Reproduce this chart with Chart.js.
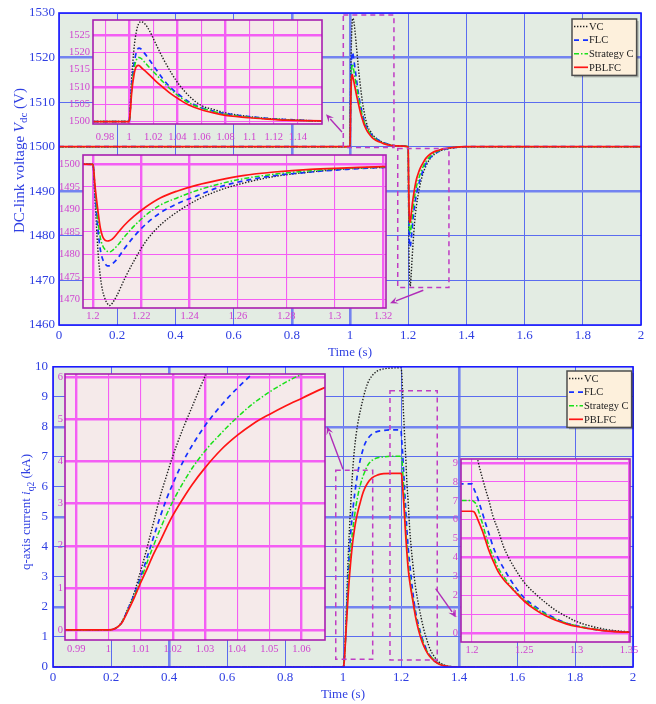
<!DOCTYPE html>
<html>
<head>
<meta charset="utf-8">
<script src="https://cdn.jsdelivr.net/npm/chart.js@4.4.1/dist/chart.umd.min.js"></script>
<style>
  body { margin: 0; background: #fff; }
  #wrap { position: relative; width: 656px; height: 704px; overflow: hidden; }
  #wrap canvas { position: absolute; }
</style>
</head>
<body>
<div id="wrap">
  <canvas id="vdcMain" width="656" height="362" style="left:0;top:0"></canvas>
  <canvas id="iqMain" width="656" height="350" style="left:0;top:354px"></canvas>
  <canvas id="vdcZoomUp" width="272" height="142" style="left:60px;top:8px"></canvas>
  <canvas id="vdcZoomDown" width="348" height="183" style="left:50px;top:143px"></canvas>
  <canvas id="iqZoomRise" width="295" height="298" style="left:40px;top:362px"></canvas>
  <canvas id="iqZoomFall" width="206" height="215" style="left:436px;top:447px"></canvas>
</div>
<script>
// ---- data ----
const seriesNames = ['VC', 'FLC', 'Strategy C', 'PBLFC'];

// DC-link voltage (V)
const vdcTime = [0, 1.0, 1.001, 1.002, 1.004, 1.006, 1.008, 1.010, 1.013, 1.017, 1.022, 1.028, 1.035, 1.042,
  1.05, 1.06, 1.07, 1.08, 1.09, 1.1, 1.115, 1.13, 1.16, 1.2,
  1.201, 1.202, 1.203, 1.204, 1.205, 1.206, 1.207, 1.208, 1.210, 1.213, 1.217, 1.222, 1.228, 1.235,
  1.243, 1.252, 1.262, 1.275, 1.29, 1.305, 1.32, 1.35, 1.4, 2.0];
const vdcVC = [1500, 1500, 1505, 1512, 1521, 1526, 1528.3, 1528.8, 1528.2, 1526.1, 1522.5, 1518.3, 1514.0, 1510.4,
  1507.3, 1504.6, 1503.5, 1502.5, 1501.9, 1501.4, 1500.9, 1500.6, 1500.2, 1500,
  1491, 1481.5, 1475.4, 1472, 1470.2, 1469.1, 1468.7, 1469.2, 1471, 1474.5, 1478.6, 1483.0, 1486.6, 1489.5,
  1492.1, 1494.2, 1495.8, 1497.3, 1498.3, 1499.0, 1499.3, 1499.7, 1500, 1500];
const vdcFLC = [1500, 1500, 1504, 1510, 1516.5, 1520, 1521.2, 1520.9, 1519.6, 1517.7, 1515.2, 1512.3, 1509.6, 1507.6,
  1505.6, 1504.0, 1503.0, 1502.3, 1501.8, 1501.4, 1500.9, 1500.6, 1500.2, 1500,
  1492.5, 1486, 1481.3, 1479, 1478, 1477.5, 1477.5, 1477.9, 1479, 1481.3, 1484.0, 1486.8, 1489.3, 1491.3,
  1493.0, 1494.9, 1496.3, 1497.5, 1498.3, 1498.9, 1499.3, 1499.7, 1500, 1500];
const vdcSC = [1500, 1500, 1503.5, 1509, 1515, 1517.8, 1518.5, 1518.2, 1517.1, 1515.5, 1513.7, 1511.5, 1509.1, 1507.1,
  1505.3, 1503.9, 1502.9, 1502.1, 1501.6, 1501.2, 1500.8, 1500.5, 1500.2, 1500,
  1493.5, 1488, 1483.9, 1482, 1481.1, 1480.7, 1480.6, 1480.9, 1481.9, 1483.9, 1486.3, 1488.8, 1491.0, 1492.6,
  1494.2, 1495.6, 1496.8, 1497.8, 1498.6, 1499.1, 1499.4, 1499.8, 1500, 1500];
const vdcPB = [1500, 1500, 1503, 1508, 1513.5, 1515.9, 1516.2, 1515.6, 1514.7, 1513.4, 1511.7, 1509.9, 1507.9, 1506.3,
  1504.7, 1503.4, 1502.5, 1501.8, 1501.4, 1501.1, 1500.7, 1500.4, 1500.2, 1500,
  1494.5, 1490, 1486.1, 1484, 1483.2, 1483.0, 1483.1, 1483.4, 1484.6, 1486.5, 1488.5, 1490.6, 1492.6, 1494.1,
  1495.4, 1496.5, 1497.5, 1498.3, 1498.9, 1499.2, 1499.5, 1499.8, 1500, 1500];

// q-axis current (kA)
const iqTime = [0, 1.0, 1.002, 1.004, 1.006, 1.008, 1.010, 1.012, 1.014, 1.016, 1.018, 1.020,
  1.023, 1.026, 1.03, 1.035, 1.04, 1.045, 1.05, 1.055, 1.06, 1.067,
  1.075, 1.085, 1.1, 1.12, 1.14, 1.17, 1.2,
  1.202, 1.204, 1.206, 1.208, 1.21, 1.213, 1.216, 1.22,
  1.225, 1.23, 1.235, 1.24, 1.25, 1.26, 1.27, 1.28, 1.29, 1.30,
  1.315, 1.33, 1.35, 1.4, 2.0];
const iqVC = [0, 0, 0.03, 0.17, 0.5, 0.88, 1.4, 1.95, 2.55, 3.15, 3.65, 4.13,
  4.75, 5.3, 6.02, 6.75, 7.3, 7.72, 8.05, 8.32, 8.55, 8.85,
  9.15, 9.45, 9.7, 9.87, 9.93, 9.96, 9.97,
  9.85, 9.55, 9.05, 8.6, 8.2, 7.6, 7.05, 6.2,
  5.45, 4.6, 4.0, 3.5, 2.67, 2.1, 1.62, 1.2, 0.88, 0.6,
  0.34, 0.17, 0.06, 0, 0];
const iqFLC = [0, 0, 0.03, 0.16, 0.48, 0.84, 1.25, 1.72, 2.2, 2.67, 3.1, 3.47,
  3.97, 4.38, 4.85, 5.33, 5.74, 6.1, 6.42, 6.68, 6.92, 7.18,
  7.42, 7.6, 7.76, 7.85, 7.88, 7.9, 7.9,
  7.62, 7.35, 7.05, 6.7, 6.35, 5.8, 5.3, 4.6,
  3.95, 3.45, 2.98, 2.55, 1.85, 1.42, 1.05, 0.77, 0.53, 0.38,
  0.2, 0.11, 0.04, 0, 0];
const iqSC = [0, 0, 0.03, 0.16, 0.46, 0.8, 1.18, 1.6, 2.0, 2.38, 2.73, 3.05,
  3.47, 3.84, 4.25, 4.67, 5.05, 5.38, 5.65, 5.88, 6.07, 6.3,
  6.5, 6.72, 6.88, 6.97, 7.0, 7.02, 7.02,
  6.95, 6.82, 6.5, 6.15, 5.8, 5.2, 4.65, 4.1,
  3.45, 3.0, 2.62, 2.3, 1.75, 1.33, 1.0, 0.73, 0.52, 0.38,
  0.22, 0.11, 0.04, 0, 0];
const iqPB = [0, 0, 0.03, 0.15, 0.44, 0.76, 1.12, 1.45, 1.8, 2.1, 2.42, 2.72,
  3.1, 3.45, 3.85, 4.28, 4.62, 4.9, 5.12, 5.32, 5.5, 5.75,
  5.95, 6.13, 6.3, 6.4, 6.44, 6.45, 6.45,
  6.42, 6.22, 5.95, 5.68, 5.4, 4.9, 4.4, 3.85,
  3.25, 2.85, 2.54, 2.25, 1.68, 1.25, 0.92, 0.67, 0.48, 0.34,
  0.2, 0.1, 0.04, 0, 0];

// tick labels
const timeTicks = [0, 0.2, 0.4, 0.6, 0.8, 1, 1.2, 1.4, 1.6, 1.8, 2];
const vdcTicks = [1460, 1470, 1480, 1490, 1500, 1510, 1520, 1530];
const iqTicks = [0, 1, 2, 3, 4, 5, 6, 7, 8, 9, 10];
const upTimeTicks = [0.98, 1, 1.02, 1.04, 1.06, 1.08, 1.1, 1.12, 1.14];
const upVdcTicks = [1500, 1505, 1510, 1515, 1520, 1525];
const downTimeTicks = [1.2, 1.22, 1.24, 1.26, 1.28, 1.3, 1.32];
const downVdcTicks = [1470, 1475, 1480, 1485, 1490, 1495, 1500];
const riseTimeTicks = [0.99, 1, 1.01, 1.02, 1.03, 1.04, 1.05, 1.06];
const riseIqTicks = [0, 1, 2, 3, 4, 5, 6];
const fallTimeTicks = [1.2, 1.25, 1.3, 1.35];
const fallIqTicks = [0, 1, 2, 3, 4, 5, 6, 7, 8, 9];

// ---- styles ----
const SERIF = '"Liberation Serif", "Times New Roman", serif';
const BLUE_TXT = '#2f3fe2';
const BLUE_GRID = '#5b6cef';
const BLUE_GRID_THICK = '#7383f0';
const BLUE_FRAME = '#1a1aff';
const PLOT_BG = '#e3ece3';
const INSET_BG = '#f5eaea';
const INSET_GRID = '#f45ef4';
const INSET_FRAME = '#a81fb0';
const INSET_TXT = '#d044d0';
const ZOOM_MARK = '#c03cc4';

const lineStyles = [
  { color: '#1e1e1e', width: 1.4, dash: [1.4, 1.6] },
  { color: '#1530ff', width: 1.7, dash: [5, 4] },
  { color: '#18e018', width: 1.5, dash: [5, 2, 1.5, 2] },
  { color: '#ff1414', width: 1.7, dash: [] }
];

function makeDatasets(time, series) {
  return series.map((vals, i) => ({
    label: seriesNames[i],
    data: time.map((t, k) => ({ x: t, y: vals[k] })),
    borderColor: lineStyles[i].color,
    borderWidth: lineStyles[i].width,
    borderDash: lineStyles[i].dash,
    pointRadius: 0,
    fill: false,
    cubicInterpolationMode: 'monotone',
    order: 4 - i
  }));
}

const fmt = v => String(parseFloat(Number(v).toFixed(3)));
const near = (v, list) => list.some(w => Math.abs(v - w) < 1e-9);
const setTicks = list => s => { s.ticks = list.map(v => ({ value: v })); };

function drawArrow(ctx, x1, y1, x2, y2, color) {
  const ang = Math.atan2(y2 - y1, x2 - x1);
  const hl = 8, hw = 3.5;
  ctx.save();
  ctx.strokeStyle = color;
  ctx.fillStyle = color;
  ctx.lineWidth = 1.4;
  ctx.beginPath();
  ctx.moveTo(x1, y1);
  ctx.lineTo(x2 - Math.cos(ang) * hl * 0.8, y2 - Math.sin(ang) * hl * 0.8);
  ctx.stroke();
  ctx.beginPath();
  ctx.moveTo(x2, y2);
  ctx.lineTo(x2 - Math.cos(ang) * hl - Math.sin(ang) * hw, y2 - Math.sin(ang) * hl + Math.cos(ang) * hw);
  ctx.lineTo(x2 - Math.cos(ang) * hl * 0.6, y2 - Math.sin(ang) * hl * 0.6);
  ctx.lineTo(x2 - Math.cos(ang) * hl + Math.sin(ang) * hw, y2 - Math.sin(ang) * hl - Math.cos(ang) * hw);
  ctx.closePath();
  ctx.fill();
  ctx.restore();
}

// vertical axis title made of runs, read bottom to top
function drawVerticalTitle(ctx, x, yStart, parts) {
  ctx.save();
  ctx.translate(x, yStart);
  ctx.rotate(-Math.PI / 2);
  ctx.fillStyle = BLUE_TXT;
  ctx.textBaseline = 'middle';
  ctx.textAlign = 'left';
  let pos = 0;
  parts.forEach(p => {
    ctx.font = p.font;
    ctx.fillText(p.text, pos, p.dy || 0);
    pos += ctx.measureText(p.text).width;
  });
  ctx.restore();
}

function drawLegend(chart, left, top) {
  const ctx = chart.ctx;
  const rowH = 13.6;
  ctx.save();
  ctx.font = '10.5px ' + SERIF;
  const textW = Math.max(...chart.data.datasets.map(d => ctx.measureText(d.label).width));
  const w = 17 + textW + 3, h = rowH * 4 + 2;
  ctx.fillStyle = 'rgba(0,0,0,0.25)';
  ctx.fillRect(left + 2, top + 2, w, h);
  ctx.fillStyle = '#fdf0dc';
  ctx.fillRect(left, top, w, h);
  ctx.strokeStyle = '#4d4d4d';
  ctx.lineWidth = 1.5;
  ctx.strokeRect(left, top, w, h);
  chart.data.datasets.forEach((ds, i) => {
    const y = top + 7.5 + i * rowH;
    ctx.strokeStyle = ds.borderColor;
    ctx.lineWidth = ds.borderWidth;
    ctx.setLineDash(ds.borderDash);
    ctx.beginPath();
    ctx.moveTo(left + 2, y);
    ctx.lineTo(left + 16, y);
    ctx.stroke();
    ctx.setLineDash([]);
    ctx.fillStyle = '#222';
    ctx.textBaseline = 'middle';
    ctx.fillText(ds.label, left + 17, y + 0.5);
  });
  ctx.restore();
}

function mainDecor(cfg) {
  return {
    id: 'mainDecor',
    beforeDraw(chart) {
      const { ctx, chartArea: a } = chart;
      ctx.save();
      ctx.fillStyle = PLOT_BG;
      ctx.fillRect(a.left, a.top, a.width, a.height);
      ctx.restore();
    },
    afterDatasetsDraw(chart) {
      const { ctx, scales: { x, y } } = chart;
      ctx.save();
      ctx.strokeStyle = ZOOM_MARK;
      ctx.lineWidth = 1.5;
      ctx.setLineDash([5, 4]);
      cfg.boxes.forEach(b => {
        const x0 = x.getPixelForValue(b[0]), x1 = x.getPixelForValue(b[1]);
        const y0 = y.getPixelForValue(b[2]), y1 = y.getPixelForValue(b[3]);
        ctx.strokeRect(x0, y1, x1 - x0, y0 - y1);
      });
      ctx.restore();
      cfg.arrows.forEach(a => drawArrow(ctx,
        x.getPixelForValue(a[0]), y.getPixelForValue(a[1]),
        x.getPixelForValue(a[2]), y.getPixelForValue(a[3]), '#b02cb8'));
    },
    afterDraw(chart) {
      const { ctx, chartArea: a } = chart;
      ctx.save();
      ctx.strokeStyle = BLUE_FRAME;
      ctx.lineWidth = 1.6;
      ctx.strokeRect(a.left, a.top, a.width, a.height);
      ctx.restore();
      drawLegend(chart, cfg.legend[0], cfg.legend[1]);
      drawVerticalTitle(ctx, cfg.title[0], cfg.title[1], cfg.titleParts);
    }
  };
}

function mainChart(id, cfg) {
  return new Chart(document.getElementById(id), {
    type: 'line',
    data: { datasets: makeDatasets(cfg.time, cfg.series) },
    options: {
      responsive: false,
      animation: false,
      events: [],
      layout: { padding: { top: cfg.padTop, right: cfg.padRight, left: 0, bottom: 0 } },
      plugins: { legend: { display: false }, tooltip: { enabled: false } },
      scales: {
        x: {
          type: 'linear', min: 0, max: 2,
          afterBuildTicks: setTicks(timeTicks),
          afterFit: s => { s.height = cfg.xAxisH; },
          ticks: { callback: fmt, autoSkip: false, maxRotation: 0, padding: 3, color: BLUE_TXT,
                   font: { family: SERIF, size: 13 } },
          grid: { drawTicks: false,
                  color: c => near(c.tick.value, cfg.thickX) ? BLUE_GRID_THICK : BLUE_GRID,
                  lineWidth: c => near(c.tick.value, cfg.thickX) ? 2.6 : 1 },
          border: { display: false },
          title: { display: true, text: 'Time (s)', color: BLUE_TXT,
                   font: { family: SERIF, size: 13 }, padding: { top: 0, bottom: 2 } }
        },
        y: {
          type: 'linear', min: cfg.yMin, max: cfg.yMax,
          afterBuildTicks: setTicks(cfg.yTicks),
          afterFit: s => { s.width = cfg.yAxisW; },
          ticks: { callback: fmt, autoSkip: false, padding: cfg.yPad, color: BLUE_TXT,
                   font: { family: SERIF, size: 13 } },
          grid: { drawTicks: false,
                  color: c => near(c.tick.value, cfg.thickY) ? BLUE_GRID_THICK : BLUE_GRID,
                  lineWidth: c => near(c.tick.value, cfg.thickY) ? 2.6 : 1 },
          border: { display: false }
        }
      }
    },
    plugins: [mainDecor(cfg)]
  });
}

const insetDecor = {
  id: 'insetDecor',
  beforeDraw(chart) {
    const { ctx, chartArea: a } = chart;
    ctx.save();
    ctx.fillStyle = INSET_BG;
    ctx.fillRect(a.left, a.top, a.width, a.height);
    ctx.restore();
  },
  afterDraw(chart) {
    const { ctx, chartArea: a } = chart;
    ctx.save();
    ctx.strokeStyle = INSET_FRAME;
    ctx.lineWidth = 1.6;
    ctx.strokeRect(a.left, a.top, a.width, a.height);
    ctx.restore();
  }
};

function insetChart(id, cfg) {
  return new Chart(document.getElementById(id), {
    type: 'line',
    data: { datasets: makeDatasets(cfg.time, cfg.series) },
    options: {
      responsive: false,
      animation: false,
      events: [],
      layout: { padding: { top: cfg.padTop, right: cfg.padRight, left: 0, bottom: 0 } },
      plugins: { legend: { display: false }, tooltip: { enabled: false } },
      scales: {
        x: {
          type: 'linear', min: cfg.xMin, max: cfg.xMax,
          afterBuildTicks: setTicks(cfg.xTicks),
          afterFit: s => { s.height = cfg.xAxisH; },
          ticks: { callback: fmt, autoSkip: false, maxRotation: 0, padding: cfg.xPad, color: INSET_TXT,
                   font: { family: SERIF, size: 10.5 } },
          grid: { drawTicks: false, color: INSET_GRID,
                  lineWidth: c => near(c.tick.value, cfg.thickX) ? 2.4 : 1.1 },
          border: { display: false }
        },
        y: {
          type: 'linear', min: cfg.yMin, max: cfg.yMax,
          afterBuildTicks: setTicks(cfg.yTicks),
          afterFit: s => { s.width = cfg.yAxisW; },
          ticks: { callback: fmt, autoSkip: false, padding: cfg.yPad, color: INSET_TXT,
                   font: { family: SERIF, size: 10.5 } },
          grid: { drawTicks: false, color: INSET_GRID,
                  lineWidth: c => near(c.tick.value, cfg.thickY) ? 2.4 : 1.1 },
          border: { display: false }
        }
      }
    },
    plugins: [insetDecor]
  });
}

const vdcSeries = [vdcVC, vdcFLC, vdcSC, vdcPB];
const iqSeries = [iqVC, iqFLC, iqSC, iqPB];

mainChart('vdcMain', {
  time: vdcTime, series: vdcSeries,
  yMin: 1460, yMax: 1530, yTicks: vdcTicks,
  padTop: 13, padRight: 15, yAxisW: 59, xAxisH: 37, yPad: 4,
  thickX: [0.8, 1], thickY: [1490, 1520],
  boxes: [[0.977, 1.151, 1499.85, 1529.55], [1.164, 1.340, 1468.4, 1499.6]],
  arrows: [[0.9725, 1503.3, 0.9175, 1507.3], [1.2519, 1467.8, 1.1375, 1464.9]],
  legend: [572, 19],
  title: [20, 233],
  titleParts: [
    { text: 'DC-link voltage ', font: '15px ' + SERIF },
    { text: 'V', font: 'italic 15px ' + SERIF },
    { text: 'dc', font: '11px ' + SERIF, dy: 4 },
    { text: ' (V)', font: '15px ' + SERIF }
  ]
});

mainChart('iqMain', {
  time: iqTime, series: iqSeries,
  yMin: 0, yMax: 10, yTicks: iqTicks,
  padTop: 11, padRight: 23, yAxisW: 53, xAxisH: 37, yPad: 5,
  thickX: [0.4, 1.4], thickY: [2, 5, 8],
  boxes: [[0.975, 1.1024, 0.255, 6.55], [1.162, 1.325, 0.23, 9.2]],
  arrows: [[1.0, 6.59, 0.945, 8.01], [1.3195, 2.61, 1.389, 1.66]],
  legend: [567, 17],
  title: [27, 216],
  titleParts: [
    { text: 'q-axis current ', font: '13px ' + SERIF },
    { text: 'i', font: 'italic 13px ' + SERIF },
    { text: 'q2', font: '9.5px ' + SERIF, dy: 4 },
    { text: ' (kA)', font: '13px ' + SERIF }
  ]
});

insetChart('vdcZoomUp', {
  time: vdcTime, series: vdcSeries,
  xMin: 0.970, xMax: 1.160, yMin: 1499.3, yMax: 1529.3,
  xTicks: upTimeTicks, yTicks: upVdcTicks,
  padTop: 12, padRight: 10, yAxisW: 33, xAxisH: 26, xPad: 7, yPad: 3,
  thickX: [1, 1.04, 1.08], thickY: [1525, 1510]
});

insetChart('vdcZoomDown', {
  time: vdcTime, series: vdcSeries,
  xMin: 1.1959, xMax: 1.3212, yMin: 1468.15, yMax: 1502.07,
  xTicks: downTimeTicks, yTicks: downVdcTicks,
  padTop: 12, padRight: 12, yAxisW: 33, xAxisH: 18, xPad: 2, yPad: 3,
  thickX: [1.2, 1.22, 1.24, 1.32], thickY: [1500]
});

insetChart('iqZoomRise', {
  time: iqTime, series: iqSeries,
  xMin: 0.9865, xMax: 1.0673, yMin: -0.24, yMax: 6.08,
  xTicks: riseTimeTicks, yTicks: riseIqTicks,
  padTop: 12, padRight: 10, yAxisW: 25, xAxisH: 20, xPad: 3, yPad: 2,
  thickX: [0.99, 1.02, 1.03, 1.06], thickY: [0, 1, 2, 3, 4, 5, 6]
});

insetChart('iqZoomFall', {
  time: iqTime, series: iqSeries,
  xMin: 1.1895, xMax: 1.351, yMin: -0.48, yMax: 9.22,
  xTicks: fallTimeTicks, yTicks: fallIqTicks,
  padTop: 12, padRight: 12, yAxisW: 25, xAxisH: 20, xPad: 2, yPad: 3,
  thickX: [], thickY: [0, 4, 5, 9]
});
</script>
</body>
</html>
